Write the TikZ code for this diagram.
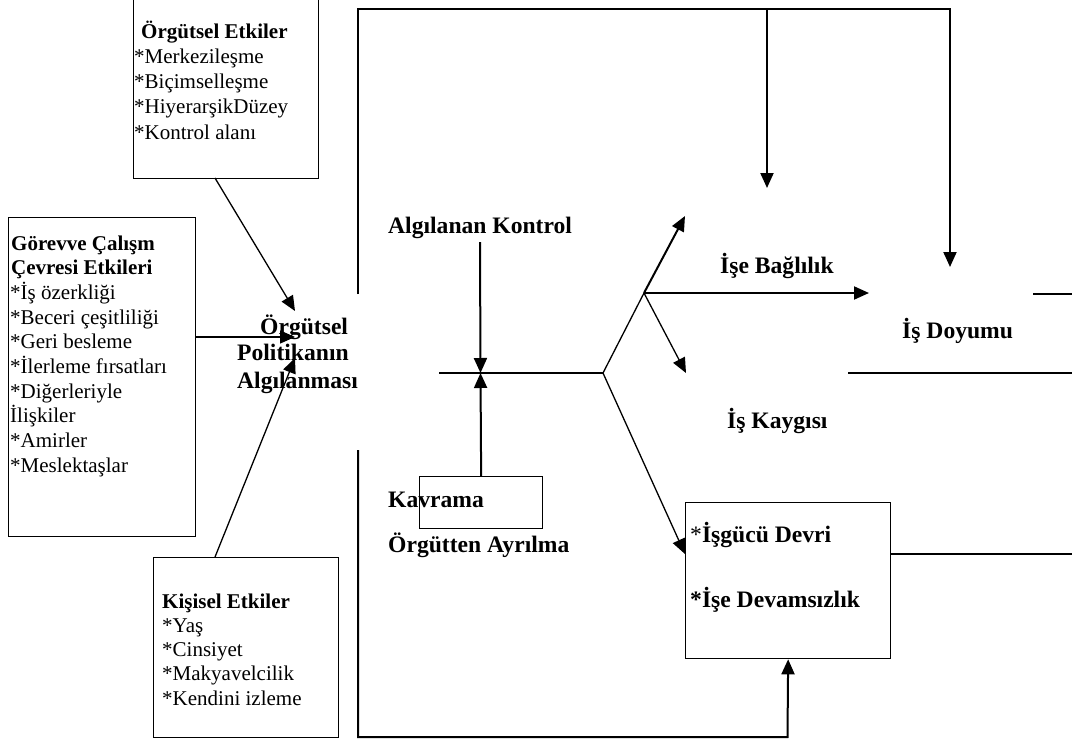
\documentclass[tikz,border=0pt]{standalone}
\usepackage{fontspec}
\setmainfont{Liberation Serif}
\usetikzlibrary{arrows.meta}
\begin{document}
\begin{tikzpicture}[x=1pt,y=-1pt,
  box/.style={draw, line width=1.3pt, inner sep=0pt, anchor=north west},
  sm/.style={font=\fontsize{21}{25}\selectfont, anchor=base west, inner sep=0pt},
  smb/.style={font=\fontsize{21}{25}\selectfont\bfseries, anchor=base west, inner sep=0pt},
  lb/.style={font=\fontsize{23.6}{27}\selectfont\bfseries, anchor=base west, inner sep=0pt},
  thinl/.style={line width=1.3pt},
  thickl/.style={line width=2pt},
  arr/.style={-{Triangle[length=15pt,width=13pt]}},
]
\useasboundingbox (0,0) rectangle (1072,742);
\fill[white] (0,0) rectangle (1072,742);
\clip (0,0) rectangle (1072,742);

% boxes
\node[box, minimum width=185pt, minimum height=183pt] (orgbox) at (133,-5) {};
\node[box, minimum width=187pt, minimum height=319pt] (gebox) at (8,217) {};
\node[box, minimum width=185pt, minimum height=180pt] (kibox) at (153,557) {};
\node[box, minimum width=123pt, minimum height=52pt] (kvbox) at (419,476) {};
\node[box, minimum width=205pt, minimum height=156pt] (isbox) at (685,502) {};

% Örgütsel Etkiler
\node[smb] (oe0) at (141,38) {Örgütsel Etkiler};
\foreach \t [count=\i] in {*Merkezileşme,*Biçimselleşme,*HiyerarşikDüzey,*Kontrol alanı}
  \node[sm, name=oe\i] at (134,38+25.3*\i) {\t};

% Görevve Çalışm
\node[smb] (ge0a) at (11,250) {Görevve Çalışm};
\node[smb] (ge0b) at (11,274.7) {Çevresi Etkileri};
\foreach \t [count=\i] in {*İş özerkliği,*Beceri çeşitliliği,*Geri besleme,*İlerleme fırsatları,*Diğerleriyle,İlişkiler,*Amirler,*Meslektaşlar}
  \node[sm, name=ge\i] at (10,274.7+24.7*\i) {\t};

% Kişisel Etkiler
\node[smb] (ke0) at (162,608) {Kişisel Etkiler};
\foreach \t [count=\i] in {*Yaş,*Cinsiyet,*Makyavelcilik,*Kendini izleme}
  \node[sm, name=ke\i] at (162,608+24.3*\i) {\t};

% middle labels
\node[lb] (pol1) at (260,334) {Örgütsel};
\node[lb] (pol2) at (237,360) {Politikanın};
\node[lb] (pol3) at (237,388) {Algılanması};
\node[lb] (ak) at (388,233) {Algılanan Kontrol};
\node[lb] (kv) at (388,507) {Kavrama};
\node[lb] (oa) at (388,552) {Örgütten Ayrılma};
\node[lb] (ib) at (720,273) {İşe Bağlılık};
\node[lb] (id) at (902,338) {İş Doyumu};
\node[lb] (ika) at (727,428) {İş Kaygısı};
\node[lb] (igd) at (690,542) {\mdseries*\bfseries İşgücü Devri};
\node[lb] (idv) at (690,607) {*İşe Devamsızlık};

% coordinates
\coordinate (o1) at (215,178);
\coordinate (g1) at (195,337);
\coordinate (k1) at (215,557);
\coordinate (p1) at (295,311);
\coordinate (p2) at (295,337);
\coordinate (p3) at (295,358);
\coordinate (fl1) at (358,294);
\coordinate (ftl) at (358,9);
\coordinate (ftr) at (950,9);
\coordinate (dy) at (950,267);
\coordinate (t1) at (767,9);
\coordinate (t2) at (767,188);
\coordinate (fl2) at (358,450);
\coordinate (fbl) at (358,737);
\coordinate (fbr) at (787.5,737);
\coordinate (h1) at (439,373);
\coordinate (J) at (603,373);
\coordinate (ak1) at (480,242);
\coordinate (akt) at (480.5,373);
\coordinate (J2) at (644,293);
\coordinate (up) at (685,216);
\coordinate (bg) at (869,293);
\coordinate (ky) at (686,373);
\coordinate (ig) at (685,554);
\coordinate (d1a) at (1033,294);
\coordinate (d1b) at (1072,294);
\coordinate (d2a) at (848,373);
\coordinate (d2b) at (1072,373);
\coordinate (i1a) at (890,554);
\coordinate (i1b) at (1072,554);

% connectors to Politikanın
\draw[thinl,arr] (o1) -- (p1);
\draw[thinl,arr] (g1) -- (p2);
\draw[thinl,arr] (k1) -- (p3);

% frame
\draw[thickl,arr] (fl1) -- (ftl) -- (ftr) -- (dy);
\draw[thickl,arr] (t1) -- (t2);
\draw[thickl,arr] (fl2) -- (fbl) -- (fbr) -- (isbox.south);

% fishbone
\draw[thickl] (h1) -- (J);
\draw[thickl,arr] (ak1) -- (akt);
\draw[thickl,arr] (kvbox.north) -- (akt);
\draw[thinl] (J) -- (J2);
\draw[thickl,arr] (J2) -- (up);
\draw[thickl,arr] (J2) -- (bg);
\draw[thinl,arr] (J2) -- (ky);
\draw[thinl,arr] (J) -- (ig);

% right lines
\draw[thickl] (d1a) -- (d1b);
\draw[thickl] (d2a) -- (d2b);
\draw[thickl] (i1a) -- (i1b);
\end{tikzpicture}
\end{document}
